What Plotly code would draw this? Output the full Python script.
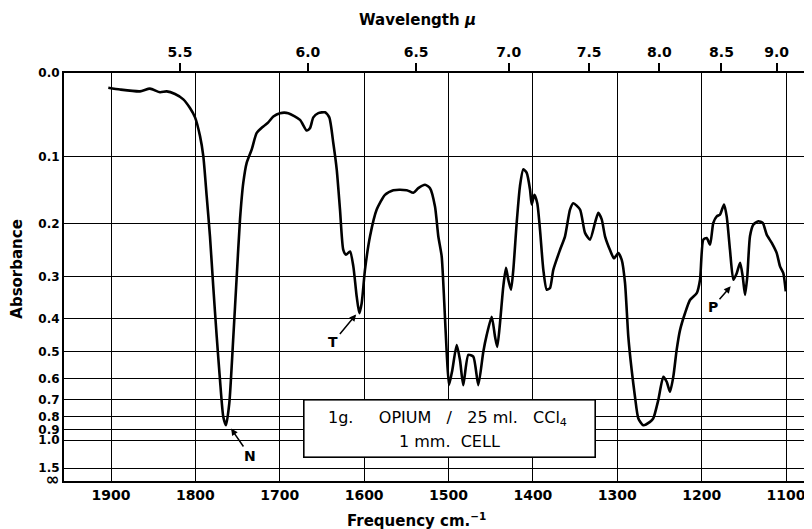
import numpy as np
import plotly.graph_objects as go

# ---- data (frequency cm-1, absorbance) ----
freq = [1903.2, 1889.3, 1865.6, 1853.8, 1841.9, 1834.0, 1824.1, 1814.3, 1806.4, 1800.4,
        1794.5, 1790.6, 1786.6, 1782.7, 1778.8, 1774.7, 1770.8, 1766.9, 1763.7, 1759.8,
        1755.0, 1751.0, 1747.1, 1743.2, 1739.2, 1733.2, 1727.3, 1719.5, 1713.6, 1707.6,
        1699.7, 1689.9, 1676.0, 1668.1, 1664.1, 1660.2, 1654.3, 1646.4, 1641.3, 1636.5,
        1632.5, 1628.6, 1624.7, 1621.5, 1616.7, 1612.8, 1608.8, 1605.7, 1602.9, 1599.0,
        1593.0, 1585.1, 1575.3, 1565.4, 1549.5, 1541.7, 1535.8, 1527.8, 1521.9, 1516.0,
        1512.1, 1508.1, 1505.0, 1502.1, 1499.4, 1495.5, 1490.3, 1486.4, 1482.5, 1476.5,
        1470.6, 1464.7, 1458.8, 1454.7, 1448.8, 1444.9, 1442.2, 1439.0, 1435.1, 1431.9,
        1429.1, 1425.9, 1423.2, 1419.2, 1415.3, 1411.3, 1407.3, 1403.4, 1401.4, 1398.3,
        1394.8, 1391.6, 1387.6, 1383.6, 1379.7, 1375.8, 1367.9, 1361.9, 1356.0, 1352.1,
        1344.1, 1338.2, 1332.3, 1326.4, 1322.5, 1318.4, 1314.5, 1308.6, 1303.9, 1298.8,
        1294.7, 1290.8, 1286.9, 1282.9, 1279.0, 1275.0, 1269.1, 1261.2, 1257.3, 1251.4,
        1245.4, 1241.4, 1237.5, 1233.6, 1229.6, 1225.6, 1219.7, 1213.8, 1205.8, 1201.9,
        1198.0, 1194.0, 1190.0, 1186.2, 1182.1, 1178.2, 1173.5, 1170.3, 1166.4, 1162.4,
        1158.4, 1154.4, 1151.3, 1148.6, 1145.9, 1142.7, 1138.8, 1132.8, 1127.6, 1122.9,
        1116.9, 1111.0, 1107.1, 1103.2, 1100.3]

absorbance = [0.016, 0.018, 0.020, 0.017, 0.021, 0.020, 0.023, 0.029, 0.039, 0.050,
              0.073, 0.099, 0.156, 0.222, 0.322, 0.451, 0.607, 0.804, 0.864, 0.721,
              0.451, 0.300, 0.193, 0.136, 0.108, 0.090, 0.069, 0.061, 0.056, 0.049,
              0.045, 0.045, 0.053, 0.066, 0.063, 0.050, 0.045, 0.044, 0.050, 0.082,
              0.117, 0.177, 0.247, 0.256, 0.250, 0.279, 0.345, 0.386, 0.361, 0.286,
              0.222, 0.177, 0.154, 0.147, 0.147, 0.151, 0.144, 0.139, 0.144, 0.172,
              0.222, 0.259, 0.361, 0.504, 0.629, 0.566, 0.477, 0.528, 0.629, 0.510,
              0.516, 0.629, 0.500, 0.446, 0.395, 0.451, 0.483, 0.413, 0.322, 0.282,
              0.307, 0.329, 0.286, 0.199, 0.141, 0.117, 0.122, 0.146, 0.169, 0.154,
              0.167, 0.210, 0.286, 0.329, 0.325, 0.286, 0.247, 0.222, 0.177, 0.167,
              0.177, 0.216, 0.228, 0.199, 0.182, 0.193, 0.222, 0.247, 0.263, 0.253,
              0.266, 0.314, 0.451, 0.566, 0.685, 0.814, 0.864, 0.839, 0.814, 0.703,
              0.593, 0.614, 0.660, 0.593, 0.493, 0.432, 0.386, 0.353, 0.337, 0.307,
              0.228, 0.225, 0.237, 0.199, 0.188, 0.185, 0.169, 0.188, 0.247, 0.307,
              0.293, 0.272, 0.300, 0.341, 0.300, 0.222, 0.202, 0.196, 0.199, 0.219,
              0.234, 0.253, 0.279, 0.293, 0.333]

freq_ticks = [1900, 1800, 1700, 1600, 1500, 1400, 1300, 1200, 1100]
wavelength_ticks = [5.5, 6.0, 6.5, 7.0, 7.5, 8.0, 8.5, 9.0]
abs_ticks = [0.0, 0.1, 0.2, 0.3, 0.4, 0.5, 0.6, 0.7, 0.8, 0.9, 1.0, 1.5, np.inf]
abs_tick_text = ["0.0", "0.1", "0.2", "0.3", "0.4", "0.5", "0.6", "0.7", "0.8",
                 "0.9", "1.0", "1.5", '<span style="font-size:17px">∞</span>']

# peak labels: (letter, frequency, absorbance at arrow tip, arrow dx, dy in px)
peak_labels = [("N", 1759, 0.878, 20, 29), ("T", 1608, 0.385, -24, 29),
               ("P", 1164, 0.318, -19, 22)]


def to_T(a):
    """The chart's ordinate is linear in transmittance."""
    return np.power(10.0, -np.asarray(a, dtype=float))


FONT = "DejaVu Sans"
x_range = [1955.7, 1069.2]

fig = go.Figure()
fig.add_trace(go.Scatter(
    x=freq, y=to_T(absorbance), mode="lines",
    line=dict(color="black", width=2.6, shape="spline", smoothing=0.6),
    hoverinfo="skip", showlegend=False))
# invisible trace to activate the top (wavelength) axis
fig.add_trace(go.Scatter(
    x=freq[:1], y=to_T(absorbance[:1]), xaxis="x2", mode="markers",
    marker=dict(opacity=0), hoverinfo="skip", showlegend=False))

# the page body adds an 8px margin; size the figure to fit the 812x529 window
fig.update_layout(
    width=804, height=521,
    margin=dict(l=56, r=0, t=65, b=48, autoexpand=False),
    paper_bgcolor="white", plot_bgcolor="white",
    xaxis=dict(range=x_range, tickvals=freq_ticks,
               ticktext=[str(v) for v in freq_ticks],
               showgrid=True, gridcolor="black", gridwidth=1.3,
               showline=True, linecolor="black", linewidth=2,
               zeroline=False, ticks="", automargin=False,
               tickfont=dict(family=FONT, size=14, color="black", weight="bold")),
    xaxis2=dict(range=x_range, overlaying="x", side="top",
                tickvals=[10000.0 / w for w in wavelength_ticks],
                ticktext=[f"{w:.1f}" for w in wavelength_ticks],
                showgrid=False, showline=True, linecolor="black", linewidth=2,
                zeroline=False, ticks="outside", ticklen=8, tickwidth=1.5,
                tickcolor="black", automargin=False,
                tickfont=dict(family=FONT, size=14, color="black", weight="bold")),
    yaxis=dict(range=[0, 1], tickvals=list(to_T(abs_ticks)), ticktext=abs_tick_text,
               showgrid=True, gridcolor="black", gridwidth=1.3,
               showline=True, linecolor="black", linewidth=2,
               zeroline=False, ticks="", automargin=False,
               tickfont=dict(family=FONT, size=12, color="black", weight="bold")),
)

title_font = dict(family=FONT, size=15, color="black", weight="bold")
box_font = dict(family=FONT, size=16, color="black")
centered = dict(xref="paper", yref="paper", showarrow=False,
                xanchor="center", yanchor="middle")
annotations = [
    dict(text="Wavelength <i>μ</i>", x=0.472, y=1.13, font=title_font, **centered),
    dict(text="Frequency cm.<sup>−1</sup>", x=0.4706, y=-0.096, font=title_font,
         **centered),
    dict(text="Absorbance", x=-0.063, y=0.52, textangle=-90, font=title_font,
         **centered),
    # boxed sample description
    dict(text=" ", x=0.5154, y=0.1287, width=290, height=56, bgcolor="white",
         bordercolor="black", borderwidth=1.6, borderpad=0, **centered),
    dict(text="1g.     OPIUM   /   25 ml.   CCl<sub>4</sub>", x=0.5127, y=0.1544,
         font=box_font, **centered),
    dict(text="1 mm.  CELL", x=0.515, y=0.0956, font=box_font, **centered),
]
for letter, f, a, dx, dy in peak_labels:
    annotations.append(dict(
        text=letter, x=f, y=float(to_T(a)), xref="x", yref="y",
        ax=dx, ay=dy, showarrow=True, arrowhead=2, arrowsize=0.9,
        arrowwidth=1.5, arrowcolor="black", standoff=2,
        font=dict(family=FONT, size=14, color="black", weight="bold")))
fig.update_layout(annotations=annotations)

fig.write_html("out.html")
